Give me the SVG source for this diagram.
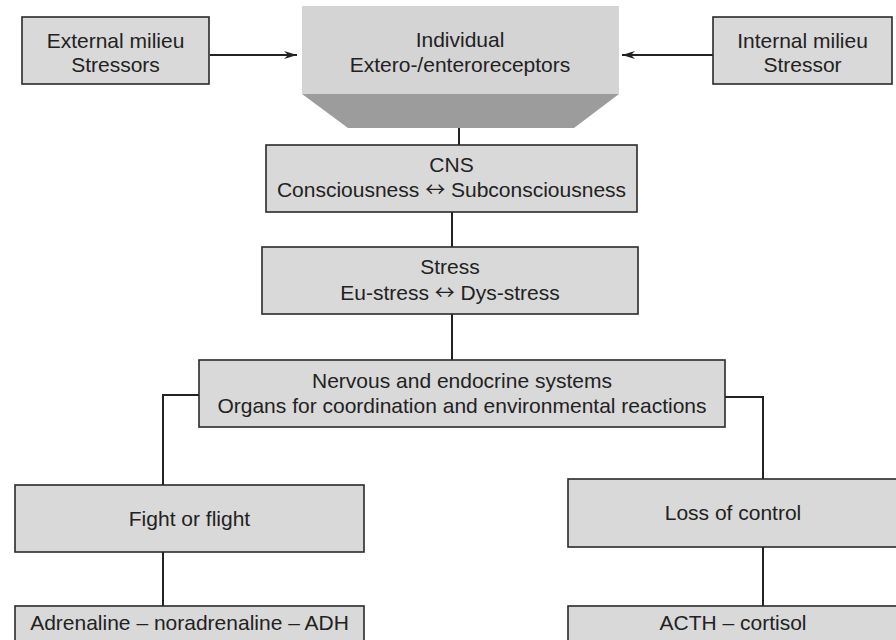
<svg xmlns="http://www.w3.org/2000/svg" width="896" height="640" viewBox="0 0 896 640">
<defs>
<style>
.box{fill:#d9d9d9;stroke:#2a2a2a;stroke-width:1.6}
.t{font-family:"Liberation Sans",Arial,sans-serif;font-size:21px;fill:#222;text-anchor:middle}
.ar{font-family:"Noto Sans CJK SC",sans-serif;font-size:20px}
.c{stroke:#222;stroke-width:2;fill:none}
</style>
<marker id="ah" markerWidth="14" markerHeight="10" refX="13" refY="5" orient="auto" markerUnits="userSpaceOnUse">
<path d="M0,1 L13,5 L0,9 L4,5 Z" fill="#222"/>
</marker>
</defs>
<rect width="896" height="640" fill="#fff"/>
<g id="connectors">
<line class="c" x1="210" y1="55" x2="297" y2="55" marker-end="url(#ah)"/>
<line class="c" x1="713" y1="55" x2="622" y2="55" marker-end="url(#ah)"/>
<line class="c" x1="459" y1="94" x2="459" y2="145"/>
<line class="c" x1="452" y1="212" x2="452" y2="247"/>
<line class="c" x1="452" y1="314" x2="452" y2="360"/>
<polyline class="c" points="199,395 163,395 163,485"/>
<line class="c" x1="163" y1="552" x2="163" y2="606"/>
<polyline class="c" points="725,397 763,397 763,479"/>
<line class="c" x1="763" y1="547" x2="763" y2="606"/>
</g>
<g id="external">
<rect class="box" x="22" y="17" width="187" height="67"/>
<text class="t" x="115.5" y="48">External milieu</text>
<text class="t" x="115.5" y="72">Stressors</text>
</g>
<g id="individual">
<rect x="302" y="6" width="317" height="88" fill="#d4d4d4"/>
<polygon points="302,94 619,94 574,128 348,128" fill="#9c9c9c"/>
<text class="t" x="460" y="47">Individual</text>
<text class="t" x="460" y="72">Extero-/enteroreceptors</text>
</g>
<g id="internal">
<rect class="box" x="713" y="17" width="179" height="67"/>
<text class="t" x="802.5" y="48">Internal milieu</text>
<text class="t" x="802.5" y="72">Stressor</text>
</g>
<g id="cns">
<rect class="box" x="266" y="145" width="371" height="67"/>
<text class="t" x="451.5" y="172">CNS</text>
<text class="t" x="451.5" y="197">Consciousness <tspan class="ar">↔</tspan> Subconsciousness</text>
</g>
<g id="stress">
<rect class="box" x="262" y="247" width="376" height="67"/>
<text class="t" x="450" y="274">Stress</text>
<text class="t" x="450" y="300">Eu-stress <tspan class="ar">↔</tspan> Dys-stress</text>
</g>
<g id="nervous">
<rect class="box" x="199" y="360" width="526" height="67"/>
<text class="t" x="462" y="388">Nervous and endocrine systems</text>
<text class="t" x="462" y="413">Organs for coordination and environmental reactions</text>
</g>
<g id="fight">
<rect class="box" x="15" y="485" width="349" height="67"/>
<text class="t" x="189.5" y="526">Fight or flight</text>
</g>
<g id="adrenaline">
<rect class="box" x="15" y="606" width="349" height="45"/>
<text class="t" x="189.5" y="630">Adrenaline – noradrenaline – ADH</text>
</g>
<g id="loss">
<rect class="box" x="568" y="479" width="340" height="68"/>
<text class="t" x="733" y="520">Loss of control</text>
</g>
<g id="acth">
<rect class="box" x="568" y="606" width="340" height="45"/>
<text class="t" x="733" y="630">ACTH – cortisol</text>
</g>
</svg>
